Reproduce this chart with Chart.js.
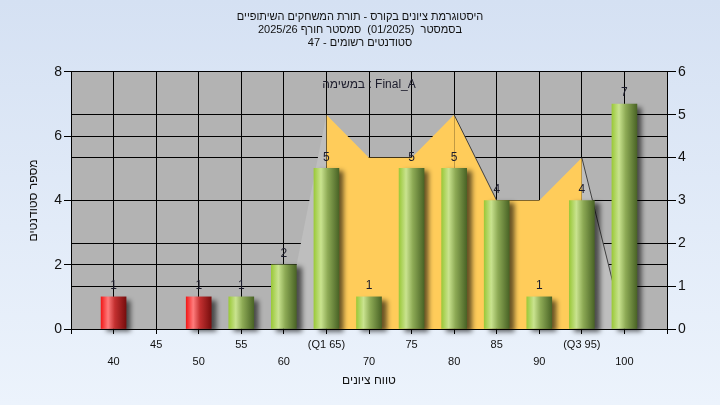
<!DOCTYPE html>
<html>
<head>
<meta charset="utf-8">
<script src="https://cdn.jsdelivr.net/npm/chart.js@4.4.1/dist/chart.umd.min.js"></script>
<style>
html, body { margin: 0; padding: 0; background: #fff; }
canvas { display: block; }
</style>
</head>
<body>
<canvas id="histChart" width="720" height="405"></canvas>
<script>
// נתוני ההיסטוגרמה
const scores = [40, 45, 50, 55, 60, 65, 70, 75, 80, 85, 90, 95, 100];
const studentCounts = [1, 0, 1, 1, 2, 5, 1, 5, 5, 4, 1, 4, 7];
const taskCounts = [null, null, null, null, 0, 5, 4, 4, 5, 3, 3, 4, 0];
const tickLabels = ['40', '45', '50', '55', '60', '(Q1 65)', '70', '75', '80', '85', '90', '(Q3 95)', '100'];
const passScore = 55;

const titleLines = [
    'היסטוגרמת ציונים בקורס - תורת המשחקים השיתופיים',
    'בסמסטר  (01/2025)  סמסטר חורף 2025/26',
    'סטודנטים רשומים - 47'
];
const taskLabel = 'במשימה : Final_A';

Chart.defaults.font.family = '"Liberation Sans", Arial, sans-serif';
Chart.defaults.color = '#111';

// גרדיאנט "גלילי" לכל עמודה
function barFill(c) {
    const i = c.dataIndex;
    const failed = scores[i] < passScore;
    const area = c.chart.chartArea;
    if (i === undefined || !area) return failed ? '#e02020' : '#8fb84a';
    if (!studentCounts[i]) return 'rgba(0,0,0,0)';
    const x = c.chart.scales.x.getPixelForValue(scores[i]);
    const g = c.chart.ctx.createLinearGradient(x - 12.5, 0, x + 12.5, 0);
    if (failed) {
        g.addColorStop(0, '#f21a1a');
        g.addColorStop(0.28, '#ff7c7c');
        g.addColorStop(0.55, '#c33030');
        g.addColorStop(1, '#780e0e');
    } else {
        g.addColorStop(0, '#9bc93a');
        g.addColorStop(0.28, '#c9e38f');
        g.addColorStop(0.55, '#8daa55');
        g.addColorStop(1, '#4a6426');
    }
    return g;
}

const decorPlugin = {
    id: 'decor',
    beforeDraw(chart) {
        const {ctx, chartArea: a} = chart;
        const bg = ctx.createLinearGradient(0, 0, 0, chart.height);
        bg.addColorStop(0, '#d5e1f3');
        bg.addColorStop(1, '#ecf3fc');
        ctx.save();
        ctx.fillStyle = bg;
        ctx.fillRect(0, 0, chart.width, chart.height);
        ctx.fillStyle = '#b3b3b3';
        ctx.fillRect(a.left, a.top, a.right - a.left, a.bottom - a.top);
        ctx.restore();
    },
    beforeDatasetDraw(chart, args) {
        if (args.index !== 0) return;
        const ctx = chart.ctx;
        ctx.save();
        ctx.shadowColor = 'rgba(0,0,0,0.6)';
        ctx.shadowBlur = 5;
        ctx.shadowOffsetX = 5;
        ctx.shadowOffsetY = 3;
    },
    afterDatasetDraw(chart, args) {
        if (args.index === 0) chart.ctx.restore();
    },
    afterDatasetsDraw(chart) {
        const {ctx, chartArea: a} = chart;
        const meta = chart.getDatasetMeta(0);
        ctx.save();
        ctx.font = '12px "Liberation Sans", Arial, sans-serif';
        ctx.fillStyle = '#1c1c2c';
        ctx.textAlign = 'center';
        ctx.textBaseline = 'middle';
        meta.data.forEach((bar, i) => {
            if (studentCounts[i] > 0) ctx.fillText(studentCounts[i], bar.x, bar.y - 11);
        });
        ctx.fillText(taskLabel, (a.left + a.right) / 2, a.top + 13);
        ctx.restore();
    }
};

new Chart(document.getElementById('histChart'), {
    data: {
        datasets: [{
            type: 'bar',
            label: 'סטודנטים',
            data: scores.map((s, i) => ({x: s, y: studentCounts[i]})),
            yAxisID: 'y',
            barThickness: 25,
            borderWidth: 0,
            backgroundColor: barFill,
            clip: false,
            order: 1
        }, {
            type: 'line',
            label: taskLabel,
            data: scores.map((s, i) => ({x: s, y: taskCounts[i]})),
            yAxisID: 'y1',
            fill: 'origin',
            backgroundColor: '#ffcc5a',
            borderColor: 'rgba(0,0,0,0)',
            borderWidth: 1,
            pointRadius: 0,
            tension: 0,
            spanGaps: false,
            order: 2,
            segment: {
                backgroundColor: c => (c.p0.parsed.y === 0 || c.p1.parsed.y === 0) ? '#bebebe' : undefined,
                borderColor: c => (c.p0.parsed.y - c.p1.parsed.y >= 2) ? '#404040' : undefined
            }
        }]
    },
    options: {
        responsive: false,
        animation: false,
        layout: {padding: 0},
        plugins: {
            legend: {display: false},
            tooltip: {enabled: false},
            title: {
                display: true,
                text: titleLines.map(t => '\u202B' + t + '\u202C'),
                color: '#111',
                font: {size: 11, weight: 'normal', lineHeight: 1.15},
                padding: {top: 11, bottom: 23}
            }
        },
        scales: {
            x: {
                type: 'linear',
                min: 35,
                max: 105,
                offset: false,
                border: {color: '#000'},
                grid: {color: '#000', tickLength: 5, offset: false},
                ticks: {
                    stepSize: 5,
                    autoSkip: false,
                    maxRotation: 0,
                    padding: 2,
                    color: '#111',
                    font: {size: 11, lineHeight: 1.55},
                    callback: v => {
                        const i = scores.indexOf(v);
                        if (i < 0) return '';
                        return i % 2 === 0 ? ['', tickLabels[i]] : [tickLabels[i], ''];
                    }
                },
                title: {
                    display: true,
                    text: 'טווח ציונים',
                    color: '#111',
                    font: {size: 12},
                    padding: {top: 0, bottom: 17}
                },
                afterFit: s => { s.height = 76; }
            },
            y: {
                position: 'left',
                min: 0,
                max: 8,
                border: {color: '#000'},
                grid: {color: '#000', tickLength: 7},
                ticks: {stepSize: 2, padding: 2, color: '#111', font: {size: 14}},
                title: {
                    display: true,
                    text: 'מספר סטודנטים',
                    color: '#111',
                    font: {size: 12},
                    padding: {top: 26, bottom: 0}
                },
                afterFit: s => { s.width = 71; }
            },
            y1: {
                position: 'right',
                min: 0,
                max: 6,
                border: {color: '#000'},
                grid: {color: '#000', tickLength: 9},
                ticks: {stepSize: 1, padding: 2, color: '#111', font: {size: 14}},
                afterFit: s => { s.width = 53; }
            }
        }
    },
    plugins: [decorPlugin]
});
</script>
</body>
</html>
